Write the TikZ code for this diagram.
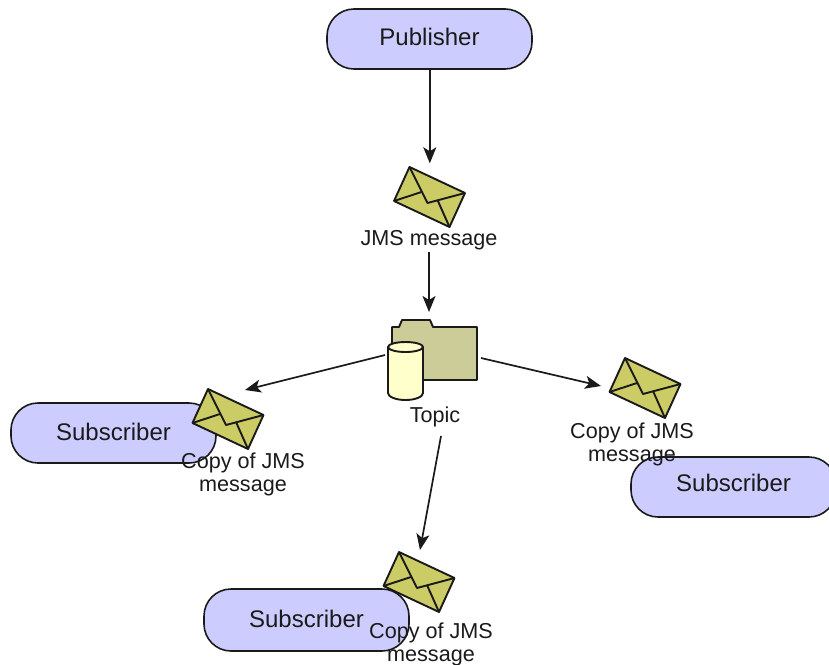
\documentclass[tikz,border=0pt]{standalone}
\usepackage{fontspec}
\setmainfont{Liberation Sans}
\usetikzlibrary{arrows.meta}
\definecolor{pillfill}{HTML}{CCCCFF}
\definecolor{envfill}{HTML}{CCCC66}
\definecolor{folderfill}{HTML}{CCCC99}
\definecolor{cylfill}{HTML}{FFFFCC}
\definecolor{ink}{HTML}{1A1A1A}
\tikzset{
  x=1pt,y=-1pt,
  pill/.style={draw=ink,line width=1.6pt,fill=pillfill,rounded corners=27pt,minimum width=205pt,minimum height=60pt,inner sep=0pt,font=\fontsize{24}{26}\selectfont,text=ink},
  lbl/.style={inner sep=0pt,align=center,text=ink,font=\fontsize{21.6}{23}\selectfont},
  envnode/.style={circle,minimum size=67pt,inner sep=0pt},
  conn/.style={draw=ink,line width=1.7pt,-{Stealth[length=16pt,width=13pt,inset=4pt]}},
  shapeline/.style={draw=ink,line width=1.9pt,line join=round},
  envelope/.pic={
    \draw[shapeline,fill=envfill] (-20,-30) -- (35.5,-4) -- (20,30) -- (-35.5,4) -- cycle;
    \draw[shapeline] (-20,-30) -- (-2,6) -- (35.5,-4);
    \draw[shapeline] (-35.5,4) -- (-8,-5);
    \draw[shapeline] (20,30) -- (8,3);
  }
}
\begin{document}
\begin{tikzpicture}
\useasboundingbox (0,0) rectangle (829,664);
\clip (0,0) rectangle (829,664);
% pills
\node[pill] (pub) at (429.5,39) {\raisebox{5pt}{Publisher}};
\node[pill] (subL) at (113.5,433) {\raisebox{2pt}{Subscriber}};
\node[pill] (subR) at (733.5,487) {\hspace*{0pt}\raisebox{8pt}{Subscriber}};
\node[pill,minimum height=62pt] (subB) at (306.5,620) {\raisebox{3pt}{Subscriber}};
% envelope anchors
\node[envnode] (env1) at (429.5,197) {};
\node[envnode] (envL) at (228,419) {};
\node[envnode] (envR) at (645,388) {};
\node[envnode] (envB) at (419,582) {};
\pic at (env1) {envelope};
\pic at (envL) {envelope};
\pic at (envR) {envelope};
\pic at (envB) {envelope};
% topic: folder and cylinder
\draw[shapeline,fill=folderfill] (392,380) -- (392,327) -- (399,327) -- (402,320) -- (430,320) -- (433,327) -- (477,327) -- (477,380) -- cycle;
\draw[shapeline,fill=cylfill] (388,347) -- (388,393) arc[start angle=180,end angle=360,x radius=17.5,y radius=-7] -- (423,347) arc[start angle=0,end angle=180,x radius=17.5,y radius=-5] -- cycle;
\draw[shapeline] (388,347) arc[start angle=180,end angle=360,x radius=17.5,y radius=-5];
% labels
\node[lbl] (lbl1) at (429,240) {JMS message};
\node[lbl] (lblT) at (435,417) {Topic};
\node[lbl] (lblL) at (243,474) {Copy of JMS\\message};
\node[lbl] (lblR) at (632,444) {Copy of JMS\\message};
\node[lbl] (lblB) at (431,644) {Copy of JMS\\message};
% connector end points on the topic
\coordinate (topicW) at (385,355);
\coordinate (topicE) at (481,358);
\coordinate (topicS) at (441,436);
\coordinate (topicN) at (429,312);
% connectors
\draw[conn] ([xshift=0.3pt]pub.south) -- ([xshift=0.3pt]env1.north);
\draw[conn] (lbl1.south -| topicN) ++(0,2) -- (topicN);
\draw[conn] (topicW) -- ([xshift=17pt,yshift=29pt]envL.center);
\draw[conn] (topicE) -- ([xshift=-44pt,yshift=2pt]envR.center);
\draw[conn] (topicS) -- ([xshift=1pt,yshift=32pt]envB.center);
\end{tikzpicture}
\end{document}
